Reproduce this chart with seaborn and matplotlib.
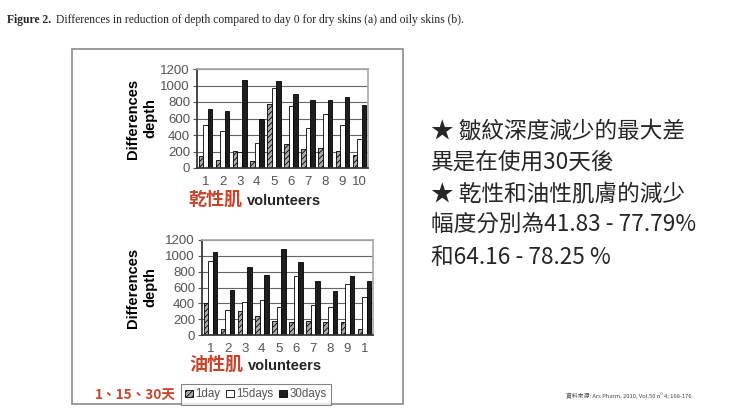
import matplotlib
matplotlib.use('Agg')
import matplotlib.pyplot as plt
import matplotlib.patches as mpatches
import pandas as pd
import seaborn as sns

# ---- data ----
volunteers = list(range(1, 11))
periods = ['1day', '15days', '30days']
dry_1day = [150, 100, 210, 80, 780, 290, 230, 245, 210, 160]
dry_15days = [520, 450, 200, 300, 970, 750, 480, 650, 520, 350]
dry_30days = [720, 690, 1070, 590, 1050, 900, 830, 830, 860, 760]
oily_1day = [410, 80, 300, 240, 180, 170, 180, 160, 160, 80]
oily_15days = [930, 320, 420, 440, 350, 740, 380, 350, 640, 480]
oily_30days = [1050, 570, 860, 760, 1090, 920, 680, 550, 750, 680]
dry_ticks = ['1', '2', '3', '4', '5', '6', '7', '8', '9', '10']
oily_ticks = ['1', '2', '3', '4', '5', '6', '7', '8', '9', '1']
y_ticks = [0, 200, 400, 600, 800, 1000, 1200]

caption_bold = 'Figure 2.'
caption_rest = 'Differences in reduction of depth compared to day 0 for dry skins (a) and oily skins (b).'
notes = ['★ 皺紋深度減少的最大差',
         '異是在使用30天後',
         '★ 乾性和油性肌膚的減少',
         '幅度分別為41.83 - 77.79%',
         '和64.16 - 78.25 %']
source = '資料來源: Ars Pharm, 2010, Vol.50 nº 4; 168-176.'

RED = '#c8452c'
CJK = ['Noto Sans CJK TC', 'DejaVu Sans']
HATCH_FACE = '#aaaaaa'

sns.set_theme(style='white')
plt.rcParams['font.family'] = ['Liberation Sans', 'DejaVu Sans']
plt.rcParams['hatch.linewidth'] = 0.6


def long_df(a, b, c):
    rows = []
    for per, vals in zip(periods, [a, b, c]):
        for v, val in zip(volunteers, vals):
            rows.append({'volunteer': v, 'period': per, 'value': val})
    return pd.DataFrame(rows)


fig = plt.figure(figsize=(7.4, 4.16), dpi=100)

# outer gray frame round the figure panel
fig.patches.append(mpatches.Rectangle((72 / 740, 1 - 404 / 416), (403 - 72) / 740, (404 - 49) / 416,
                                      transform=fig.transFigure, fill=False, edgecolor='#8a8a8a', lw=1.2))


def draw(ax, df, ticks, label_x):
    sns.barplot(data=df, x='volunteer', y='value', hue='period', hue_order=periods,
                palette=['white', 'white', '#1e1e1e'], width=0.8, edgecolor='black',
                linewidth=0.6, legend=False, ax=ax)
    for bar in ax.containers[0]:
        bar.set_hatch('//////')
        bar.set_facecolor(HATCH_FACE)
    ax.set_ylim(0, 1200)
    ax.set_xlim(-0.5, 9.5)
    ax.set_yticks(y_ticks)
    ax.set_xticks(range(10), ticks)
    ax.yaxis.grid(True, color='#666666', lw=0.8)
    ax.set_axisbelow(True)
    ax.tick_params(axis='both', labelsize=9.5, colors='#555555', length=3, width=0.8, pad=2, left=True)
    ax.tick_params(axis='x', bottom=False, pad=3)
    for side in ['top', 'right']:
        ax.spines[side].set_color('#aaaaaa')
    for side in ['left', 'bottom']:
        ax.spines[side].set_color('#333333')
    ax.set_xlabel('')
    ax.set_ylabel('Differences\ndepth', fontsize=10.5, fontweight='bold', color='black', linespacing=1.3)
    ax.yaxis.set_label_coords(label_x, 0.5)


ax1 = fig.add_axes([197 / 740, 1 - 168 / 416, 171 / 740, 99 / 416])
draw(ax1, long_df(dry_1day, dry_15days, dry_30days), dry_ticks, -0.23)
ax2 = fig.add_axes([202 / 740, 1 - 335 / 416, 171 / 740, 95 / 416])
draw(ax2, long_df(oily_1day, oily_15days, oily_30days), oily_ticks, -0.26)

# x labels: red skin type + black "volunteers"
fig.text(188 / 740, 1 - 199 / 416, '乾性肌', family=CJK, fontsize=13, fontweight='bold', color=RED, va='center')
fig.text(247 / 740, 1 - 201 / 416, 'volunteers', fontsize=10.5, fontweight='bold', va='center')
fig.text(189 / 740, 1 - 364 / 416, '油性肌', family=CJK, fontsize=13, fontweight='bold', color=RED, va='center')
fig.text(248 / 740, 1 - 366 / 416, 'volunteers', fontsize=10.5, fontweight='bold', va='center')

# legend
handles = [mpatches.Patch(facecolor=HATCH_FACE, edgecolor='black', hatch='//////', lw=0.6, label=periods[0]),
           mpatches.Patch(facecolor='white', edgecolor='black', lw=0.6, label=periods[1]),
           mpatches.Patch(facecolor='#1e1e1e', edgecolor='black', lw=0.6, label=periods[2])]
leg = fig.legend(handles=handles, loc='center', bbox_to_anchor=(256 / 740, 1 - 394.5 / 416), ncol=3,
                 fontsize=8.3, frameon=True, fancybox=False, edgecolor='#666666', handlelength=0.65,
                 handleheight=0.65, handletextpad=0.25, columnspacing=0.5, borderpad=0.35, borderaxespad=0)
leg.get_frame().set_linewidth(0.8)
for t in leg.get_texts():
    t.set_color('#555555')
fig.text(95 / 740, 1 - 395 / 416, '1、15、30天', family=CJK, fontsize=9.8, fontweight='bold', color=RED, va='center')

# caption
fig.text(7 / 740, 1 - 20 / 416, caption_bold, family=['Liberation Serif'], fontsize=8.4,
         fontweight='bold', va='center')
fig.text(56 / 740, 1 - 20 / 416, caption_rest, family=['Liberation Serif'], fontsize=8.4, va='center')

# notes on the right
for i, line in enumerate(notes):
    fig.text(431 / 740, 1 - (131 + i * 31.5) / 416, line, family=CJK, fontsize=16.3, va='center')

fig.text(566 / 740, 1 - 396 / 416, source, family=CJK, fontsize=4.2, color='#444444', va='center')

fig.savefig('out.png', dpi=100)
